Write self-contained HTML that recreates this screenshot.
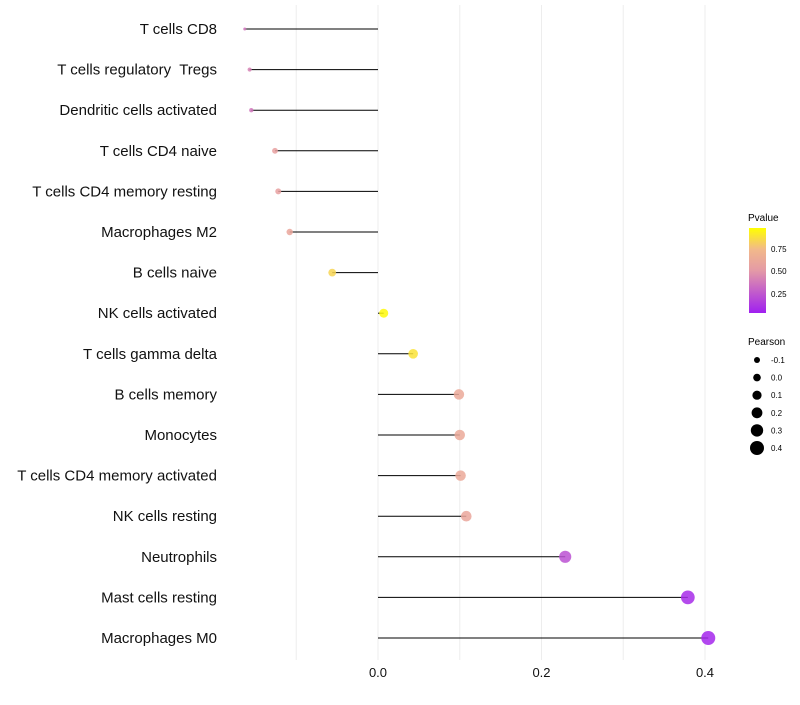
<!DOCTYPE html>
<html><head><meta charset="utf-8"><style>
body{margin:0;background:#fff;font-family:"Liberation Sans",sans-serif}
</style></head><body>
<svg id="chart" width="800" height="700" xmlns="http://www.w3.org/2000/svg" font-family="Liberation Sans, sans-serif">
<g id="grid"></g>
<g id="marks"></g>
<g id="ylabels"></g>
<g id="xlabels"></g>
<g id="legend">
<defs><linearGradient id="pg" x1="0" y1="1" x2="0" y2="0">
<stop offset="0" stop-color="#a020f0"/><stop offset="0.5" stop-color="#e49aa6"/><stop offset="0.75" stop-color="#f2b98a"/><stop offset="1" stop-color="#ffff00"/></linearGradient></defs>
<text x="748" y="221" font-size="10">Pvalue</text>
<rect x="749" y="228" width="17" height="85" fill="url(#pg)"/>
<text x="771" y="252" font-size="8">0.75</text>
<text x="771" y="274" font-size="8">0.50</text>
<text x="771" y="297" font-size="8">0.25</text>
<text x="748" y="345" font-size="10">Pearson</text>
</g>
</svg>
<script>
const categories=["T cells CD8","T cells regulatory  Tregs","Dendritic cells activated","T cells CD4 naive","T cells CD4 memory resting","Macrophages M2","B cells naive","NK cells activated","T cells gamma delta","B cells memory","Monocytes","T cells CD4 memory activated","NK cells resting","Neutrophils","Mast cells resting","Macrophages M0"];
const pearson=[-0.163,-0.157,-0.155,-0.126,-0.122,-0.108,-0.056,0.007,0.043,0.099,0.100,0.101,0.108,0.229,0.379,0.404];
const pvalues=[0.35,0.4,0.35,0.55,0.55,0.6,0.85,0.98,0.9,0.62,0.62,0.62,0.6,0.2,0.05,0.03];
const xTicks=[0.0,0.2,0.4];
const sizeLegend=[-0.1,0.0,0.1,0.2,0.3,0.4];
const NS="http://www.w3.org/2000/svg";
const x=v=>378+v*817.5;
const y=i=>29+i*40.6;
const r=v=>1.5+5.5*Math.sqrt(Math.max(0,(v+0.163)/0.567));
function lerp(a,b,t){return a.map((c,k)=>Math.round(c+(b[k]-c)*t));}
function col(p){const s=[[0,[160,32,240]],[0.5,[228,154,166]],[0.75,[242,185,138]],[1,[255,255,0]]];
for(let k=1;k<s.length;k++){if(p<=s[k][0]){const t=(p-s[k-1][0])/(s[k][0]-s[k-1][0]);return "rgb("+lerp(s[k-1][1],s[k][1],t).join(",")+")";}}return "rgb(255,255,0)";}
function mk(t,a,p){const e=document.createElementNS(NS,t);for(const k in a)e.setAttribute(k,a[k]);p.appendChild(e);return e;}
const grid=document.getElementById('grid'),marks=document.getElementById('marks'),yl=document.getElementById('ylabels'),xl=document.getElementById('xlabels'),lg=document.getElementById('legend');
[-0.1,0,0.1,0.2,0.3,0.4].forEach(v=>{const g=mk('line',{x1:x(v),x2:x(v),y1:5,y2:660,stroke:'#ededed','stroke-width':1},grid);

});
categories.forEach((c,i)=>{
const l=mk('line',{x1:x(0),x2:x(pearson[i]),y1:y(i),y2:y(i),stroke:'#000','stroke-width':1},marks);


const d=mk('circle',{cx:x(pearson[i]),cy:y(i),r:r(pearson[i]),fill:col(pvalues[i]),'fill-opacity':0.85},marks);


const t=mk('text',{x:217,y:y(i)+5,'text-anchor':'end','font-size':15,fill:'#111'},yl);t.textContent=c;
t.style.whiteSpace='pre';


});
xTicks.forEach(v=>{const t=mk('text',{x:x(v),y:677,'text-anchor':'middle','font-size':13,fill:'#111'},xl);t.textContent=v.toFixed(1);

});
sizeLegend.forEach((v,i)=>{const cy=360+i*17.6;
const c=mk('circle',{cx:757,cy:cy,r:3+i*0.8,fill:'#000'},lg);


const t=mk('text',{x:771,y:cy+3,'font-size':8},lg);t.textContent=v.toFixed(1);

});
</script>
</body></html>
